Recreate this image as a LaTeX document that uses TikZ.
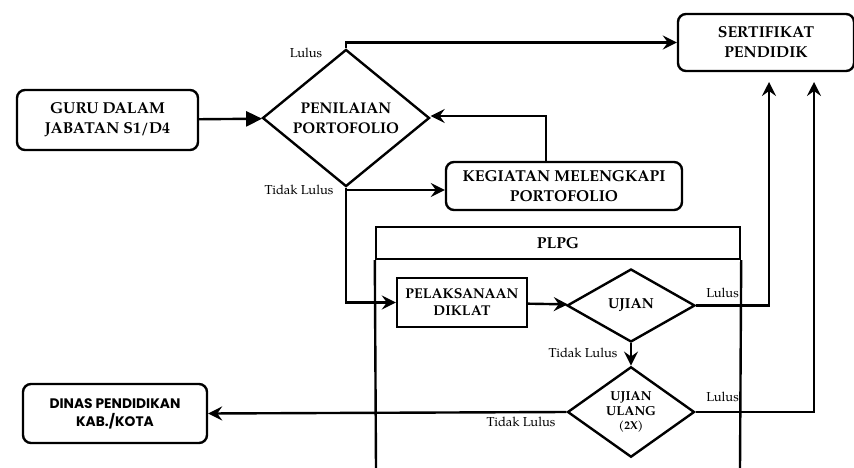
\documentclass[tikz,border=0pt]{standalone}
\usepackage{fontspec}
\setmainfont{texgyrepagella}[Extension=.otf, UprightFont=*-regular, BoldFont=*-bold,
  ItalicFont=*-italic, BoldItalicFont=*-bolditalic]
\newfontfamily\gothicfont{Poppins}
\usetikzlibrary{shapes.geometric,arrows.meta}

\tikzset{
  box/.style={draw, line width=2.4pt, rounded corners=8pt, align=center, inner sep=0pt,
    font=\bfseries\fontsize{15.8}{20}\selectfont},
  plainbox/.style={draw, line width=2.4pt, align=center, inner sep=0pt,
    font=\bfseries\fontsize{14.2}{17}\selectfont},
  decision/.style={draw, diamond, line width=2.4pt, align=center, inner sep=0pt},
  lbl/.style={font=\fontsize{13}{16}\selectfont, inner sep=0pt},
  flow/.style={line width=2.4pt, -{Stealth[length=14pt,width=14pt,inset=5pt]}},
}

\begin{document}
\begin{tikzpicture}[x=1pt,y=-1pt] % Alur
  \useasboundingbox (0,0) rectangle (854,468);

  % PLPG
  \node[draw, line width=2.4pt, minimum width=364pt, minimum height=32pt, inner sep=0pt,
    font=\bfseries\fontsize{15.8}{20}\selectfont] (plpg) at (558,243) {PLPG};
  \draw[line width=2.4pt] (plpg.south west) -- (376,468);
  \draw[line width=2.4pt] (plpg.south east) -- (740,468);

  % nodes
  \node[box, minimum width=181pt, minimum height=60pt] (guru) at (107.5,120) {GURU DALAM\\JABATAN S1/D4};
  \node[decision, minimum width=167pt, minimum height=113pt,
    font=\bfseries\fontsize{15.5}{20}\selectfont] (nilai) at (346,118) {PENILAIAN\\PORTOFOLIO};
  \node[box, minimum width=176pt, minimum height=57pt] (sertifikat) at (766,42.5) {SERTIFIKAT\\PENDIDIK};
  \node[box, minimum width=236pt, minimum height=48pt] (kegiatan) at (564,186) {KEGIATAN MELENGKAPI\\PORTOFOLIO};
  \node[plainbox, minimum width=130pt, minimum height=49pt] (diklat) at (462,302.5) {PELAKSANAAN\\DIKLAT};
  \node[decision, minimum width=128pt, minimum height=73pt,
    font=\bfseries\fontsize{14.5}{18}\selectfont] (ujian) at (631,305.5) {UJIAN};
  \node[decision, minimum width=127pt, minimum height=70pt,
    font=\bfseries\fontsize{13}{14.5}\selectfont] (ulang) at (631,412) {UJIAN\\ULANG\\{\fontsize{11.5}{14}\selectfont(2X)}};
  \node[box, minimum width=184pt, minimum height=59pt,
    font=\gothicfont\bfseries\fontsize{13.8}{18}\selectfont] (dinas) at (115,413.5) {DINAS PENDIDIKAN\\KAB./KOTA};

  \coordinate (cabang) at (346,190);
  \coordinate (lulusa) at (769,82);
  \coordinate (lulusb) at (814,82);

  % arrows
  \draw[line width=2.4pt, -{Triangle[length=16pt,width=15pt]}] (guru) -- (nilai);
  \draw[flow] (nilai.north) |- (sertifikat.west);
  \draw[flow] ([xshift=-18pt]kegiatan.north) |- ([yshift=2pt]nilai.east);
  \draw[line width=2.4pt] (nilai.south) -- (cabang);
  \draw[flow] (cabang) -- (kegiatan.west |- cabang);
  \draw[flow] (cabang) |- (diklat.west);
  \draw[flow] (diklat) -- (ujian);
  \draw[flow] (ujian.east) -| (lulusa);
  \draw[flow] (ujian) -- (ulang);
  \draw[flow] (ulang.east) -| (lulusb);
  \draw[flow] (ulang.west) -- (dinas.east);

  % labels
  \node[lbl] at (306,53) {Lulus};
  \node[lbl] at (299,190) {Tidak Lulus};
  \node[lbl, anchor=base east] at (739,297) {Lulus};
  \node[lbl] at (583,353) {Tidak Lulus};
  \node[lbl, anchor=base east] at (739,401) {Lulus};
  \node[lbl] at (521,422) {Tidak Lulus};
\end{tikzpicture}
\end{document}
